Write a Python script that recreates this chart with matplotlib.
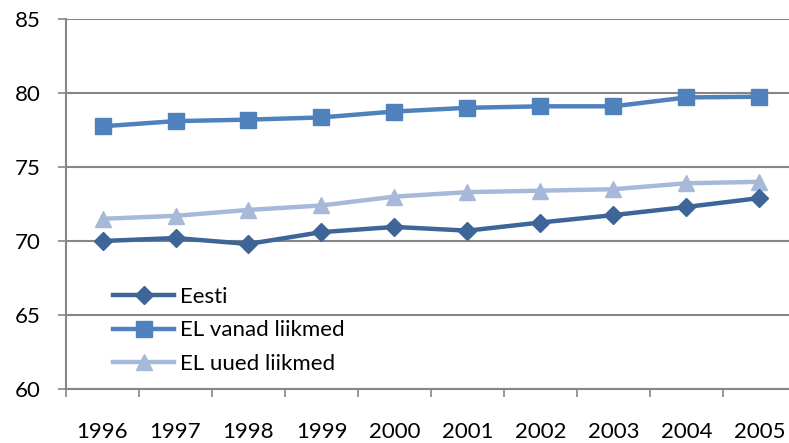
import matplotlib
matplotlib.use('Agg')
import matplotlib.pyplot as plt

years = ['1996', '1997', '1998', '1999', '2000', '2001', '2002', '2003', '2004', '2005']
eesti = [70.0, 70.2, 69.8, 70.6, 70.95, 70.7, 71.25, 71.75, 72.3, 72.9]
el_vanad = [77.75, 78.1, 78.2, 78.35, 78.75, 79.0, 79.1, 79.1, 79.7, 79.75]
el_uued = [71.5, 71.7, 72.1, 72.4, 73.0, 73.3, 73.4, 73.5, 73.9, 74.0]

plt.rcParams['font.family'] = ['Lato', 'DejaVu Sans']

fig = plt.figure(figsize=(7.89, 4.43), dpi=100)
# Excel plot area is cropped on the right, so the axes run past the figure edge
ax = fig.add_axes([66 / 789, 54 / 443, 730 / 789, 370 / 443])

x = range(len(years))
ax.plot(x, eesti, color='#3D6598', linewidth=3.2, marker='D', markersize=9.5,
        label='Eesti', zorder=4)
ax.plot(x, el_vanad, color='#4F81BD', linewidth=3.2, marker='s', markersize=11,
        label='EL vanad liikmed', zorder=3)
ax.plot(x, el_uued, color='#A7B9D8', linewidth=3.2, marker='^', markersize=11.5,
        label='EL uued liikmed', zorder=2)

ax.set_xlim(-0.5, 9.5)
ax.set_ylim(60, 85)
ax.set_yticks([60, 65, 70, 75, 80, 85])
ax.set_xticks(x)
ax.set_xticklabels(years)
ax.set_xticks([i - 0.5 for i in range(11)], minor=True)

ax.grid(axis='y', color='#868686', linewidth=1.5)
ax.set_axisbelow(True)
for side in ['top', 'right']:
    ax.spines[side].set_visible(False)
ax.spines['left'].set_color('#868686')
ax.spines['left'].set_linewidth(1.5)
ax.spines['bottom'].set_color('#868686')
ax.spines['bottom'].set_linewidth(1.5)

ax.tick_params(axis='y', length=6, width=1.2, color='#868686', labelsize=16, pad=12)
ax.tick_params(axis='x', which='major', length=0, labelsize=16, pad=24)
ax.tick_params(axis='x', which='minor', length=6, width=1.2, color='#868686')

ax.legend(loc='lower left', bbox_to_anchor=(0.043, -0.002), frameon=False, fontsize=16,
          handlelength=2.75, handletextpad=0.25, labelspacing=0.62, borderaxespad=0.3)

fig.savefig('out.png', dpi=100)
